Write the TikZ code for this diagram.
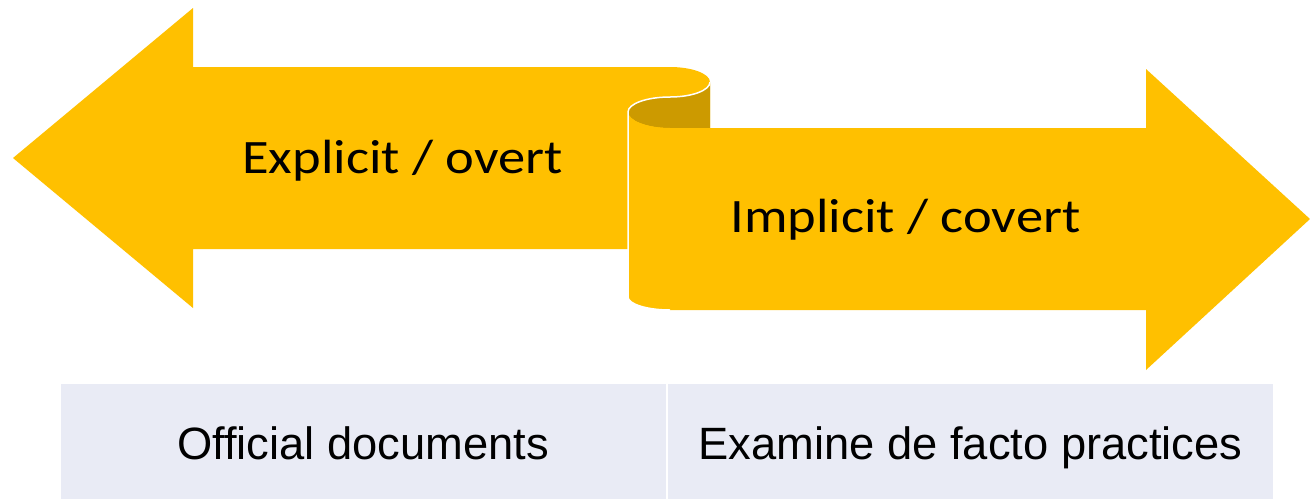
\documentclass[tikz,border=0pt]{standalone}
\usepackage{fontspec}
\newfontfamily\arrowfont{Carlito}
\newfontfamily\tablefont{Liberation Sans}
\definecolor{gold}{RGB}{255,192,0}
\definecolor{darkgold}{RGB}{204,154,0}
\definecolor{cellbg}{RGB}{233,235,245}
\begin{document}
\begin{tikzpicture}[x=1pt,y=-1pt,
  arrowtext/.style={font=\arrowfont\fontsize{48}{56}\selectfont,anchor=base,inner sep=0pt,text=black},
  celltext/.style={font=\tablefont\fontsize{45.3}{52}\selectfont,anchor=base,inner sep=0pt,text=black}]
\useasboundingbox (0,0) rectangle (1310,499);
% left arrow band
\fill[gold] (13,158) -- (193,8) -- (193,67) -- (670,67)
  .. controls (692.1,67) and (710,73.7) .. (710,82)
  -- (710,128) -- (628,128) -- (628,249) -- (193,249) -- (193,308) -- cycle;
% dark inner side of the curl
\fill[darkgold] (628,112) .. controls (628,103.7) and (646.8,97) .. (670,97)
  .. controls (692.1,97) and (710,90.3) .. (710,82)
  -- (710,128) -- (670,128) .. controls (646.8,128) and (628,120.3) .. (628,112) -- cycle;
% right arrow band
\fill[gold] (628,112) .. controls (628,120.3) and (646.8,128) .. (670,128)
  -- (1146,128) -- (1146,69) -- (1310,219) -- (1146,370) -- (1146,310)
  -- (670,310) .. controls (646.8,310) and (628,304) .. (628,297) -- cycle;
% white outline of the curl
\draw[white,line width=1.5pt] (710,82) .. controls (710,90.3) and (692.1,97) .. (670,97)
  .. controls (646.8,97) and (628,103.7) .. (628,112) -- (628,297)
  .. controls (628,304) and (646.8,310) .. (670,310);
% labels
\node[arrowtext] (explicit) at (402.5,173) {\scalebox{1.135}[1]{Explicit / overt}};
\node[arrowtext] (implicit) at (905.5,232) {\scalebox{1.135}[1]{Implicit / covert}};
% table
\fill[cellbg] (61,384) rectangle (1273,499);
\draw[white,line width=2pt] (667,384) -- (667,499);
\node[celltext] (official) at (363,459) {Official documents};
\node[celltext] (examine) at (970.5,459) {Examine de facto practices};
\end{tikzpicture}
\end{document}
